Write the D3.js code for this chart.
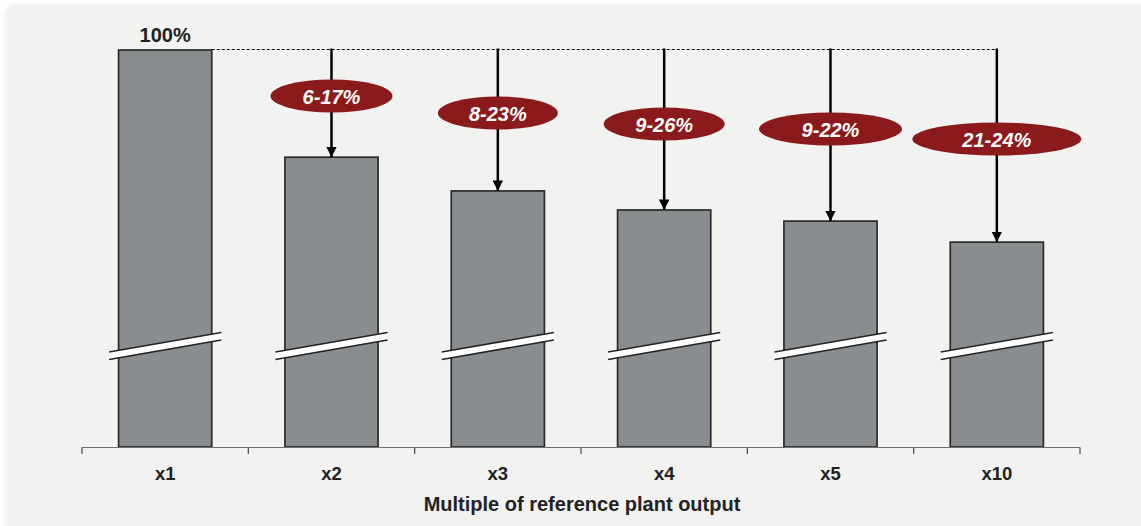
<!DOCTYPE html>
<html>
<head>
<meta charset="utf-8">
<script src="https://cdn.jsdelivr.net/npm/d3@7"></script>
<style>
  html, body { margin: 0; padding: 0; background: #ffffff; }
  svg { display: block; }
  text { font-family: "Liberation Sans", Arial, sans-serif; }
</style>
</head>
<body>
<svg id="chart" width="1141" height="526"></svg>
<script>
// Plant scale multiples and relative unit cost (index, x1 = 100)
const categories = ["x1", "x2", "x3", "x4", "x5", "x10"];
const costIndex = [100, 73.0, 64.5, 59.7, 56.9, 51.6];
// Cost reduction ranges versus the reference plant
const reductionLabels = [null, "6-17%", "8-23%", "9-26%", "9-22%", "21-24%"];
const topLabel = "100%";
const axisTitle = "Multiple of reference plant output";

// Badge placement (vertical centre and half-width) for each reduction label
const badgeY = [null, 96, 113, 124, 129, 139];
const badgeRx = [null, 61, 60, 60.5, 71.5, 84.5];

const svg = d3.select("#chart");
const W = 1141, H = 526;

// Panel background
const defs = svg.append("defs");
const flt = defs.append("filter").attr("id", "soft").attr("x", "-5%").attr("y", "-5%").attr("width", "110%").attr("height", "110%");
flt.append("feGaussianBlur").attr("stdDeviation", 2.5);
svg.append("rect").attr("x", 6).attr("y", 5).attr("width", W + 20).attr("height", H + 20)
  .attr("rx", 10).attr("fill", "#e6e6e4").attr("filter", "url(#soft)");
svg.append("rect").attr("x", 7).attr("y", 6).attr("width", W + 20).attr("height", H + 20)
  .attr("rx", 9).attr("fill", "#f2f2f1");

const baseY = 447;
const x = d3.scaleBand().domain(categories).range([82, 1080]).paddingInner(0.44).paddingOuter(0.22);
const y = d3.scaleLinear().domain([0, 100]).range([baseY, 50]);
const step = x.step();
const bw = x.bandwidth();

const data = categories.map((c, i) => ({
  cat: c, value: costIndex[i], label: reductionLabels[i], by: badgeY[i], rx: badgeRx[i]
}));

// Bars
svg.append("g").selectAll("rect").data(data).join("rect")
  .attr("x", d => x(d.cat))
  .attr("y", d => y(d.value))
  .attr("width", bw)
  .attr("height", d => baseY - y(d.value))
  .attr("fill", "#8a8d90")
  .attr("stroke", "#2a2a2a")
  .attr("stroke-width", 1.7);

// Scale-break bands across every bar
const brk = svg.append("g");
data.forEach(d => {
  const x0 = x(d.cat) - 9.5, x1 = x(d.cat) + bw + 9.5;
  const yl = 352, yr = 332.5, gap = 7.5;
  brk.append("path")
    .attr("d", `M${x0},${yl} L${x1},${yr} L${x1},${yr + gap} L${x0},${yl + gap} Z`)
    .attr("fill", "#ffffff");
  brk.append("line").attr("x1", x0).attr("y1", yl).attr("x2", x1).attr("y2", yr)
    .attr("stroke", "#222").attr("stroke-width", 1.5);
  brk.append("line").attr("x1", x0).attr("y1", yl + gap).attr("x2", x1).attr("y2", yr + gap)
    .attr("stroke", "#222").attr("stroke-width", 1.5);
});

// Axis baseline with boundary ticks
const axisG = svg.append("g").attr("transform", `translate(0,${baseY})`);
const axis = d3.axisBottom(x).tickSize(0).tickPadding(0);
axisG.call(axis);
axisG.select(".domain").remove();
axisG.selectAll(".tick text")
  .attr("y", 33).attr("dy", 0)
  .attr("font-size", 18.5).attr("font-weight", "bold").attr("fill", "#222")
  .attr("font-family", "Liberation Sans, Arial, sans-serif");
const bounds = categories.map(c => x(c) - step * 0.22).concat([x(categories[categories.length - 1]) + bw + step * 0.22]);
axisG.append("line").attr("x1", bounds[0]).attr("x2", bounds[bounds.length - 1])
  .attr("y1", 0.5).attr("y2", 0.5).attr("stroke", "#6e6e6e").attr("stroke-width", 1.2);
axisG.selectAll("line.bt").data(bounds).join("line").attr("class", "bt")
  .attr("x1", d => d).attr("x2", d => d).attr("y1", 0.5).attr("y2", 7)
  .attr("stroke", "#555").attr("stroke-width", 1.3);

svg.append("text").attr("x", 582).attr("y", 511).attr("text-anchor", "middle")
  .attr("font-size", 20).attr("font-weight", "bold").attr("fill", "#222").text(axisTitle);

// Reference line from the x1 bar top
const refY = y(costIndex[0]);
const lastCx = x(categories[categories.length - 1]) + bw / 2;
svg.append("line").attr("x1", x(categories[0]) + bw).attr("x2", lastCx)
  .attr("y1", refY - 0.5).attr("y2", refY - 0.5)
  .attr("stroke", "#000").attr("stroke-width", 1.1).attr("stroke-dasharray", "3,2");

svg.append("text").attr("x", x(categories[0]) + bw / 2).attr("y", 42).attr("text-anchor", "middle")
  .attr("font-size", 20).attr("font-weight", "bold").attr("fill", "#222").text(topLabel);

// Reduction arrows and badges
defs.append("marker").attr("id", "head").attr("viewBox", "0 0 10 10")
  .attr("refX", 10).attr("refY", 5).attr("markerWidth", 4.2).attr("markerHeight", 4.2)
  .attr("markerUnits", "strokeWidth").attr("orient", "auto")
  .append("path").attr("d", "M0,0 L10,5 L0,10 Z").attr("fill", "#000");

const arrows = data.filter(d => d.label);
svg.append("g").selectAll("line").data(arrows).join("line")
  .attr("x1", d => x(d.cat) + bw / 2).attr("x2", d => x(d.cat) + bw / 2)
  .attr("y1", refY - 1.5).attr("y2", d => y(d.value))
  .attr("stroke", "#000").attr("stroke-width", 2.5).attr("marker-end", "url(#head)");

const badges = svg.append("g").selectAll("g").data(arrows).join("g")
  .attr("transform", d => `translate(${x(d.cat) + bw / 2},${d.by})`);
badges.append("ellipse").attr("rx", d => d.rx).attr("ry", 16.5).attr("fill", "#8b1a1c");
badges.append("text").attr("text-anchor", "middle").attr("y", 7.5)
  .attr("font-size", 20).attr("font-weight", "bold").attr("font-style", "italic")
  .attr("fill", "#ffffff").text(d => d.label);
</script>
</body>
</html>
